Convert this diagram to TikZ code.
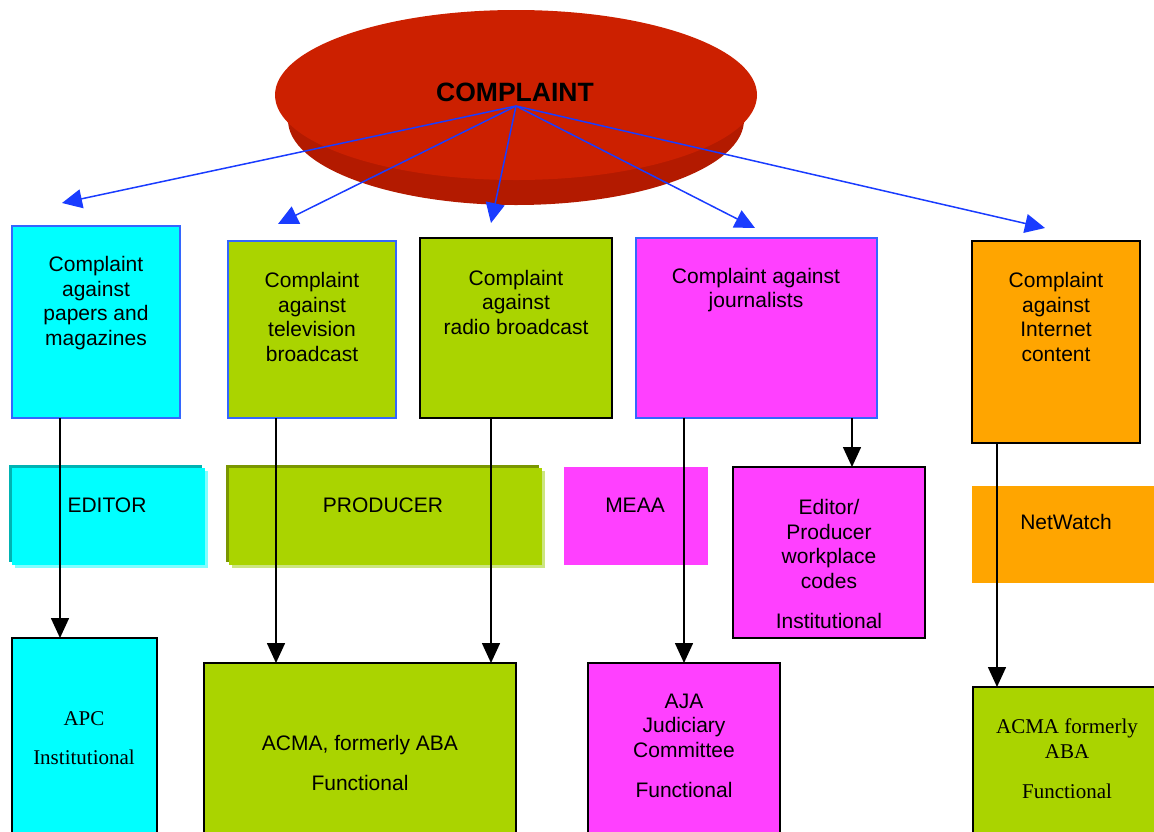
\documentclass[tikz,border=0pt]{standalone}
\usepackage{fontspec}
\setmainfont{Liberation Sans}
\newfontfamily\timesfont{Liberation Serif}
\usetikzlibrary{arrows.meta}

\definecolor{boxcyan}{HTML}{00FFFF}
\definecolor{cyandark}{HTML}{00B3B3}
\definecolor{cyanlight}{HTML}{80FFFF}
\definecolor{boxgreen}{HTML}{AAD400}
\definecolor{greendark}{HTML}{7A9600}
\definecolor{greenlight}{HTML}{CCE680}
\definecolor{boxmagenta}{HTML}{FF40FF}
\definecolor{boxorange}{HTML}{FFA500}
\definecolor{edgeblue}{HTML}{3366FF}
\definecolor{arrowblue}{HTML}{1A3CFF}
\definecolor{disktop}{HTML}{CC2000}
\definecolor{diskside}{HTML}{B31A00}

\begin{document}
\begin{tikzpicture}[x=1pt, y=-1pt,
    box/.style={anchor=north west, inner sep=0pt, outer sep=0pt, line width=1.2pt},
    txt/.style={align=center, inner sep=0pt, font=\fontsize{21}{24.5}\selectfont},
    serif txt/.style={txt, font=\fontsize{21}{24.5}\selectfont\timesfont},
    blue arrow/.style={-{Triangle[length=20pt,width=19pt]}, line width=1.5pt, draw=arrowblue, fill=arrowblue},
    black arrow/.style={-{Triangle[length=20pt,width=18pt]}, line width=1.6pt}]
    \useasboundingbox (0,0) rectangle (1154,831);
    \clip (0,0) rectangle (1154,831);

    % Scheibe
    \fill[diskside] (275,95) -- (288,120) -- (744,120) -- (757,95) -- cycle;
    \fill[diskside] (516,120) ellipse [x radius=228, y radius=85];
    \fill[disktop] (516,95) ellipse [x radius=241, y radius=85];
    \node[inner sep=0pt, font=\fontsize{26.5}{30}\selectfont\bfseries] (complaint) at (515,92) {COMPLAINT};
    \coordinate (hub) at (516,106);

    % obere Kaesten
    \node[box, draw=edgeblue, fill=boxcyan, minimum width=168, minimum height=192] (papers) at (12,226) {};
    \node[txt] (papers text) at (96,303) {Complaint\\against\\papers and\\magazines};
    \node[box, draw=edgeblue, fill=boxgreen, minimum width=168, minimum height=177] (tv) at (228,241) {};
    \node[txt] (tv text) at (312,317) {Complaint\\against\\television\\broadcast};
    \node[box, draw=black, fill=boxgreen, minimum width=192, minimum height=180] (radio) at (420,238) {};
    \node[txt] (radio text) at (516,302) {Complaint\\against\\radio broadcast};
    \node[box, draw=edgeblue, fill=boxmagenta, minimum width=241, minimum height=180] (journalists) at (636,238) {};
    \node[txt] (journalists text) at (756,290) {Complaint against\\journalists};
    \node[box, draw=black, fill=boxorange, minimum width=168, minimum height=202] (internet) at (972,241) {};
    \node[txt] (internet text) at (1056,317) {Complaint\\against\\Internet\\content};

    % Pfeile vom Zentrum
    \coordinate (papers tip) at (62,203);
    \coordinate (tv tip) at (278,224);
    \coordinate (radio tip) at (491,223);
    \coordinate (journalists tip) at (755,228);
    \coordinate (internet tip) at (1045,228);
    \draw[blue arrow] (hub) -- (papers tip);
    \draw[blue arrow] (hub) -- (tv tip);
    \draw[blue arrow] (hub) -- (radio tip);
    \draw[blue arrow] (hub) -- (journalists tip);
    \draw[blue arrow] (hub) -- (internet tip);

    % mittlere Reihe
    \fill[cyanlight] (15,471) rectangle (208,568);
    \fill[cyandark] (9,465) rectangle (202,562);
    \node[box, fill=boxcyan, minimum width=193, minimum height=97] (editor) at (12,468) {};
    \node[txt] (editor text) at (107,505) {EDITOR};
    \fill[greenlight] (232,471) rectangle (545,568);
    \fill[greendark] (226,465) rectangle (539,562);
    \node[box, fill=boxgreen, minimum width=313, minimum height=97] (producer) at (229,468) {};
    \node[txt] (producer text) at (383,505) {PRODUCER};
    \node[box, fill=boxmagenta, minimum width=144, minimum height=98] (meaa) at (564,467) {};
    \node[txt] (meaa text) at (635,505) {MEAA};
    \node[box, draw=black, fill=boxmagenta, minimum width=192, minimum height=171] (codes) at (733,467) {};
    \node[txt] (codes text) at (829,564) {Editor/\\Producer\\workplace\\codes\\[16pt]Institutional};
    \node[box, fill=boxorange, minimum width=190, minimum height=97] (netwatch) at (972,486) {};
    \node[txt] (netwatch text) at (1066,522) {NetWatch};

    % untere Reihe
    \node[box, draw=black, fill=boxcyan, minimum width=145, minimum height=210] (apc) at (12,638) {};
    \node[serif txt] (apc text) at (84,738) {APC\\[15pt]Institutional};
    \node[box, draw=black, fill=boxgreen, minimum width=312, minimum height=190] (acma) at (204,663) {};
    \node[txt] (acma text) at (360,763) {ACMA, formerly ABA\\[15pt]Functional};
    \node[box, draw=black, fill=boxmagenta, minimum width=192, minimum height=190] (aja) at (588,663) {};
    \node[txt] (aja text) at (684,746) {AJA\\Judiciary\\Committee\\[16pt]Functional};
    \node[box, draw=black, fill=boxgreen, minimum width=200, minimum height=170] (acma net) at (973,687) {};
    \node[serif txt] (acma net text) at (1067,759) {ACMA formerly\\ABA\\[16pt]Functional};

    % Pfeile nach unten
    \draw[black arrow] (papers.south -| 60,0) -- (apc.north -| 60,0);
    \draw[black arrow] (tv.south -| 276,0) -- (acma.north -| 276,0);
    \draw[black arrow] (radio.south -| 491,0) -- (acma.north -| 491,0);
    \draw[black arrow] (journalists.south -| 684,0) -- (aja.north -| 684,0);
    \draw[black arrow] (journalists.south -| 852,0) -- (codes.north -| 852,0);
    \draw[black arrow] (internet.south -| 997,0) -- (acma net.north -| 997,0);
\end{tikzpicture}
\end{document}
